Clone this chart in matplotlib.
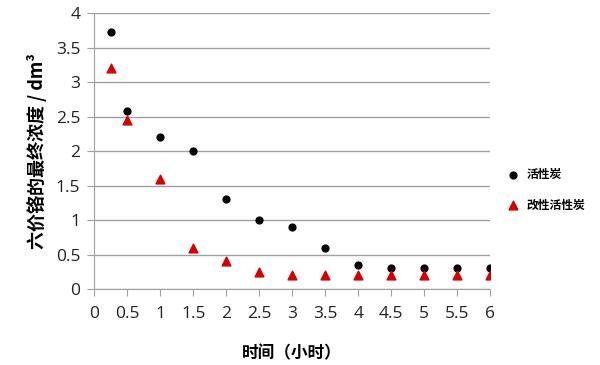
import matplotlib
matplotlib.use("Agg")
import matplotlib.pyplot as plt

plt.rcParams['font.family'] = ['Open Sans', 'Noto Sans CJK SC', 'DejaVu Sans']

hours = [0.25, 0.5, 1, 1.5, 2, 2.5, 3, 3.5, 4, 4.5, 5, 5.5, 6]
activated = [3.72, 2.58, 2.2, 2.0, 1.3, 1.0, 0.9, 0.6, 0.35, 0.3, 0.3, 0.3, 0.3]
modified = [3.2, 2.45, 1.6, 0.6, 0.4, 0.25, 0.2, 0.2, 0.2, 0.2, 0.2, 0.2, 0.2]
x_ticks = [0, 0.5, 1, 1.5, 2, 2.5, 3, 3.5, 4, 4.5, 5, 5.5, 6]
y_ticks = [0, 0.5, 1, 1.5, 2, 2.5, 3, 3.5, 4]

fig = plt.figure(figsize=(6, 3.65), dpi=100)
ax = fig.add_axes([0.157, 0.208, 0.660, 0.756])

ax.scatter(hours, activated, s=24, color='black', marker='o', label='活性炭', zorder=3)
ax.scatter(hours, modified, s=40, color='#d40000', marker='^', label='改性活性炭', zorder=3)

ax.set_xlim(0, 6)
ax.set_ylim(0, 4)
ax.set_xticks(x_ticks)
ax.set_xticklabels([f'{t:g}' for t in x_ticks])
ax.set_yticks(y_ticks)
ax.set_yticklabels([f'{t:g}' for t in y_ticks])
ax.yaxis.grid(True, color='#a0a0a0', lw=1)
ax.set_axisbelow(True)
for s in ['top', 'right']:
    ax.spines[s].set_visible(False)
for s in ['left', 'bottom']:
    ax.spines[s].set_color('#a0a0a0')
ax.tick_params(axis='both', colors='#a0a0a0', labelcolor='#222222', labelsize=12.5, length=5)
ax.tick_params(axis='x', pad=7)
ax.tick_params(axis='y', pad=5)

ax.set_xlabel('时间（小时）', fontsize=12, fontweight='bold', labelpad=16,
              family=['Noto Sans CJK SC', 'DejaVu Sans'])
ax.set_ylabel('六价铬的最终浓度 / dm³', fontsize=13, fontweight='bold', labelpad=6,
              family=['Noto Sans CJK SC', 'DejaVu Sans'])

ax.legend(loc='center left', bbox_to_anchor=(1.0, 0.36), frameon=False,
          prop={'family': ['Noto Sans CJK SC', 'DejaVu Sans'], 'weight': 'bold', 'size': 8.5},
          handletextpad=0.2, labelspacing=1.5)

fig.savefig('out.png', dpi=100)
